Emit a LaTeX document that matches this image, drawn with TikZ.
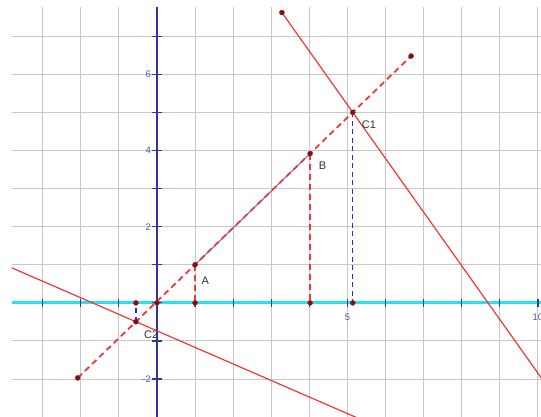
\documentclass[tikz,border=0pt]{standalone}
\usepackage{fontspec}
\setmainfont{Liberation Sans}
\usepackage{xcolor}
\usepackage{tikz}
\usetikzlibrary{positioning}
\definecolor{ggred}{RGB}{240,55,55}
\definecolor{ggdot}{RGB}{165,0,0}
\definecolor{ggcyan}{RGB}{40,225,235}
\definecolor{ggaxis}{RGB}{50,50,170}
\definecolor{ggblue}{RGB}{40,40,230}
\definecolor{ggnum}{RGB}{85,85,165}
\tikzset{
  gridline/.style={draw=black!22, line width=1pt},
  xaxis/.style={draw=ggcyan, line width=3pt},
  yaxis/.style={draw=ggaxis, line width=1.4pt},
  axistick/.style={draw=ggaxis, line width=1.2pt},
  redline/.style={draw=ggred, line width=1.2pt},
  reddash/.style={draw=ggred, line width=1.8pt, dash pattern=on 6pt off 4pt},
  bluethin/.style={draw=ggblue!70, line width=1pt},
  bluedash/.style={draw=ggblue, line width=1.2pt, dash pattern=on 5pt off 3.5pt},
  ptmark/.style={circle, fill=ggdot, draw=black!70, line width=0.5pt,
                 inner sep=0pt, minimum size=5pt},
  lbl/.style={inner sep=1pt, font=\fontsize{11}{12}\selectfont, text=black!80},
  numlbl/.style={inner sep=1pt, font=\fontsize{9.5}{10}\selectfont, text=ggnum},
}

\begin{document}
\begin{tikzpicture}[x=38.1pt, y=38.1pt]
  \useasboundingbox (-4.12,-2.99) rectangle (10.08,7.95);

  % Points
  \coordinate (O) at (0,0);
  \coordinate (lo) at (-2.08,-1.97);
  \coordinate (up) at (6.67,6.48);
  \coordinate (A) at (1,1);
  \coordinate (B) at (4.02,3.92);
  \coordinate (T) at (3.28,7.62);
  \coordinate (Tend) at (10.6,-2.69);
  \coordinate (Lstart) at (-3.81,0.92);
  \coordinate (Lend) at (6,-3.34);
  \coordinate (C1) at (intersection of lo--up and T--Tend);
  \coordinate (C2) at (intersection of lo--up and Lstart--Lend);

  \begin{scope}
    \clip (-3.81,-2.99) rectangle (10.08,7.77);
    % Grid and axes
    \draw[gridline, step=1] (-3.81,-2.99) grid (10.08,7.77);
    \draw[xaxis] (-3.81,0) -- (10.08,0);
    \draw[yaxis] (0,-2.99) -- (0,7.77);
    \foreach \i in {-3,...,10}
      \draw[axistick] (\i,-0.1) -- (\i,0.1);
    \foreach \j in {-2,...,7}
      \draw[axistick] (-0.13,\j) -- (0.13,\j);
    \foreach \j in {-2,2,4,6}
      \node[numlbl, anchor=east] (ylab\j) at (-0.13,\j) {\j};
    \node[numlbl, anchor=north] (xlab5) at (5,-0.25) {5};
    \node[numlbl, anchor=north] (xlab10) at (10,-0.25) {10};

    % Lines
    \draw[redline] (T) -- (Tend);
    \draw[redline] (Lstart) -- (Lend);
    \draw[bluethin] (A) -- (B);
    \draw[reddash] (lo) -- (up);
    \draw[reddash] (A) -- (A |- O);
    \draw[reddash] (B) -- (B |- O);
    \draw[bluedash] (C1) -- (C1 |- O);
    \draw[bluedash] (C2) -- (C2 |- O);
  \end{scope}

  % Dots
  \node[ptmark] (dT) at (T) {};
  \node[ptmark] (dup) at (up) {};
  \node[ptmark] (dlo) at (lo) {};
  \node[ptmark] (dA) at (A) {};
  \node[ptmark] (dB) at (B) {};
  \node[ptmark] (dC1) at (C1) {};
  \node[ptmark] (dC2) at (C2) {};
  \node[ptmark] (dO) at (O) {};
  \node[ptmark] (fA) at (A |- O) {};
  \node[ptmark] (fB) at (B |- O) {};
  \node[ptmark] (fC1) at (C1 |- O) {};
  \node[ptmark] (fC2) at (C2 |- O) {};

  % Labels
  \node[lbl, below right=9pt and 3.5pt of dA] (labA) {A};
  \node[lbl, below right=5pt and 5.5pt of dB] (labB) {B};
  \node[lbl, below right=5pt and 6pt of dC1] (labC1) {C1};
  \node[lbl, below right=6pt and 5pt of dC2] (labC2) {C2};
\end{tikzpicture}
\end{document}
